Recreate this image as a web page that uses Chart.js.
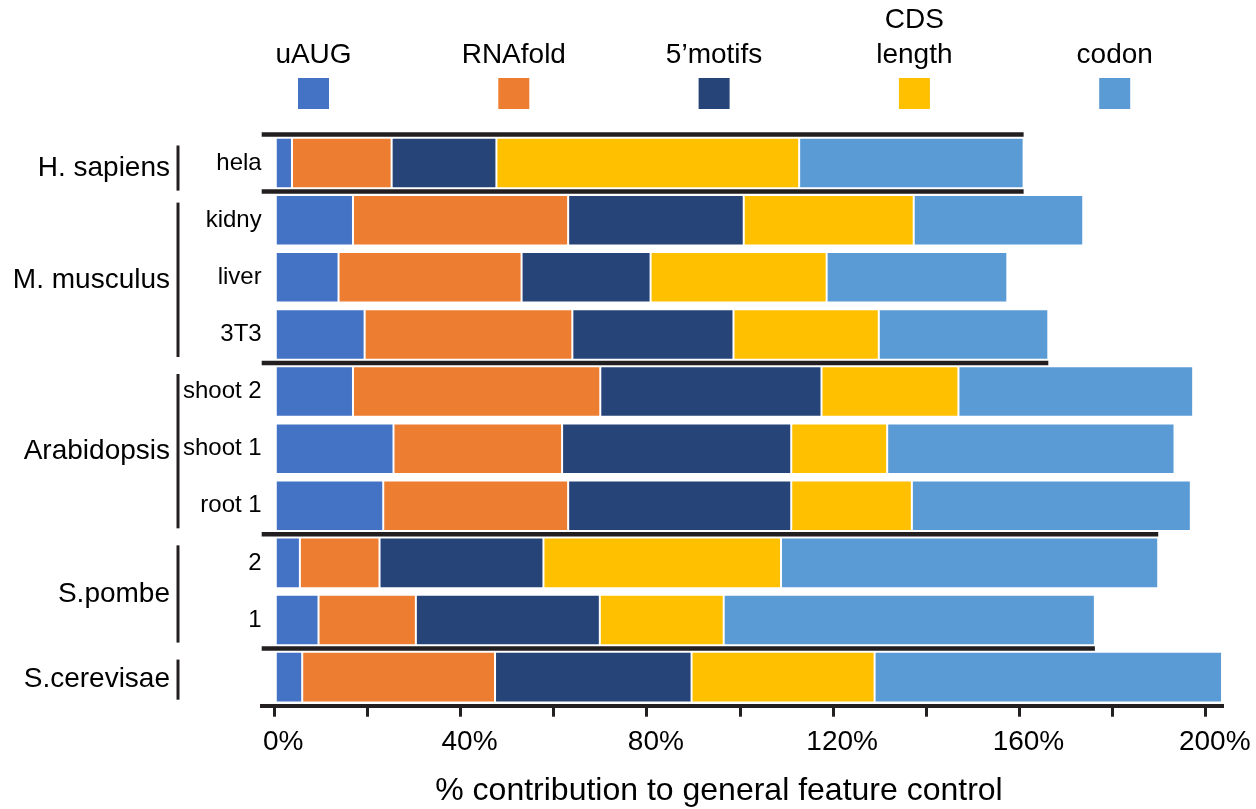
<!DOCTYPE html>
<html>
<head>
<meta charset="utf-8">
<script src="https://cdn.jsdelivr.net/npm/chart.js@4.4.1/dist/chart.umd.min.js"></script>
<style>
  html, body { margin: 0; padding: 0; background: #fff; }
  #wrap { width: 1256px; height: 809px; position: relative; }
</style>
</head>
<body>
<div id="wrap"><canvas id="c"></canvas></div>
<script>
// ---- data ----
const categories = ['hela', 'kidny', 'liver', '3T3', 'shoot 2', 'shoot 1', 'root 1', '2', '1', ''];
const uAUG    = [3.8, 16.9, 13.8, 19.4, 16.9, 25.6, 23.4, 5.5, 9.5, 6.0];
const RNAfold = [21.4, 46.2, 39.3, 44.6, 53.1, 36.2, 39.7, 17.1, 20.9, 41.4];
const motifs5 = [22.5, 37.7, 27.7, 34.6, 47.5, 49.2, 47.9, 35.2, 39.5, 42.2];
const cdsLength = [65.0, 36.5, 37.8, 31.2, 29.4, 20.6, 25.9, 51.0, 26.6, 39.3];
const codon   = [48.2, 36.4, 38.8, 36.4, 50.4, 61.7, 59.9, 81.0, 79.7, 74.6];

const seriesNames = ['uAUG', 'RNAfold', '5\u2019motifs', 'CDS length', 'codon'];
const legendLines = [['uAUG'], ['RNAfold'], ['5\u2019motifs'], ['CDS', 'length'], ['codon']];
const seriesColors = ['#4472C4', '#ED7D31', '#264478', '#FFC000', '#5B9BD5'];

const groupNames = ['H. sapiens', 'M. musculus', 'Arabidopsis', 'S.pombe', 'S.cerevisae'];
const groupFirst = [0, 1, 4, 7, 9];
const groupLast  = [0, 3, 6, 8, 9];

// separator lines: boundary after row index (-1 = top), extending to the end of a given row
const sepAfterRow = [-1, 0, 3, 6, 8];
const sepEndRow   = [0, 0, 3, 7, 8];

const xTickValues = [0, 20, 40, 60, 80, 100, 120, 140, 160, 180, 200];
const xTitle = '% contribution to general feature control';

// ---- chart ----
Chart.defaults.font.family = "'Liberation Sans', Arial, Helvetica, sans-serif";
Chart.defaults.color = '#000';

const seriesData = [uAUG, RNAfold, motifs5, cdsLength, codon];
const totals = categories.map((_, i) => seriesData.reduce((s, arr) => s + arr[i], 0));
const INK = '#231f20';
const FONT = "'Liberation Sans', Arial, sans-serif";

const decor = {
  id: 'decor',
  afterDatasetsDraw(chart) {
    const { ctx, chartArea } = chart;
    const x = chart.scales.x, y = chart.scales.y;
    ctx.save();
    ctx.strokeStyle = INK;
    ctx.lineWidth = 4.5;
    ctx.lineCap = 'butt';
    sepAfterRow.forEach((r, k) => {
      const py = y.getPixelForValue(r + 0.5);
      const x2 = x.getPixelForValue(totals[sepEndRow[k]]);
      ctx.beginPath();
      ctx.moveTo(chartArea.left, py);
      ctx.lineTo(x2, py);
      ctx.stroke();
    });
    ctx.restore();
  },
  afterDraw(chart) {
    const { ctx } = chart;
    const y = chart.scales.y;
    ctx.save();
    // groups: brackets + labels
    ctx.strokeStyle = INK;
    ctx.lineWidth = 3;
    ctx.fillStyle = '#000';
    ctx.font = '28px ' + FONT;
    ctx.textAlign = 'right';
    ctx.textBaseline = 'middle';
    groupNames.forEach((name, g) => {
      const top = y.getPixelForValue(groupFirst[g] - 0.5) + 11;
      const bot = y.getPixelForValue(groupLast[g] + 0.5) - (g === 0 ? 1 : 6);
      ctx.beginPath();
      ctx.moveTo(178, top);
      ctx.lineTo(178, bot);
      ctx.stroke();
      ctx.fillText(name, 170, (top + bot) / 2);
    });
    // legend: label above square
    ctx.textAlign = 'center';
    ctx.textBaseline = 'alphabetic';
    chart.data.datasets.forEach((ds, i) => {
      const cx = 313.5 + 200.3 * i;
      ctx.fillStyle = ds.backgroundColor;
      ctx.fillRect(cx - 15.5, 78, 31, 31);
      ctx.fillStyle = '#000';
      const lines = legendLines[i];
      lines.forEach((t, j) => {
        ctx.fillText(t, cx, 63 - (lines.length - 1 - j) * 35);
      });
    });
    // x-axis title
    ctx.font = '32px ' + FONT;
    ctx.fillStyle = '#000';
    ctx.fillText(xTitle, 719, 800);
    ctx.restore();
  }
};

new Chart(document.getElementById('c'), {
  type: 'bar',
  data: {
    labels: categories,
    datasets: seriesData.map((d, i) => ({
      label: seriesNames[i],
      data: d,
      backgroundColor: seriesColors[i],
      borderColor: 'rgba(255,255,255,0.3)',
      borderWidth: 1,
      borderSkipped: false,
      barPercentage: 0.885,
      categoryPercentage: 1.0
    }))
  },
  options: {
    indexAxis: 'y',
    responsive: true,
    maintainAspectRatio: false,
    animation: false,
    layout: { padding: { top: 134.5, right: 33.5, left: 0, bottom: 0 } },
    plugins: {
      legend: { display: false },
      tooltip: { enabled: true }
    },
    scales: {
      x: {
        type: 'linear',
        stacked: true,
        position: 'bottom',
        min: -2.7,
        max: 203.6,
        afterFit: (s) => { s.height = 103.3; },
        afterBuildTicks: (s) => { s.ticks = xTickValues.map(v => ({ value: v })); },
        border: { display: true, color: INK, width: 4 },
        grid: {
          display: true, drawOnChartArea: false, drawTicks: true,
          tickLength: 11, tickWidth: 3, tickColor: INK, color: INK, lineWidth: 3
        },
        ticks: {
          autoSkip: false,
          maxRotation: 0, minRotation: 0,
          labelOffset: 9,
          padding: 9,
          color: '#000',
          font: { size: 28 },
          callback: (v) => (v % 40 === 0 ? v + '%' : '')
        },
        title: { display: false }
      },
      y: {
        type: 'category',
        stacked: true,
        afterFit: (s) => { s.width = 261.7; },
        grid: { display: false, drawTicks: false },
        border: { display: false },
        ticks: { color: '#000', font: { size: 24 }, padding: 0, autoSkip: false }
      }
    }
  },
  plugins: [decor]
});
</script>
</body>
</html>
